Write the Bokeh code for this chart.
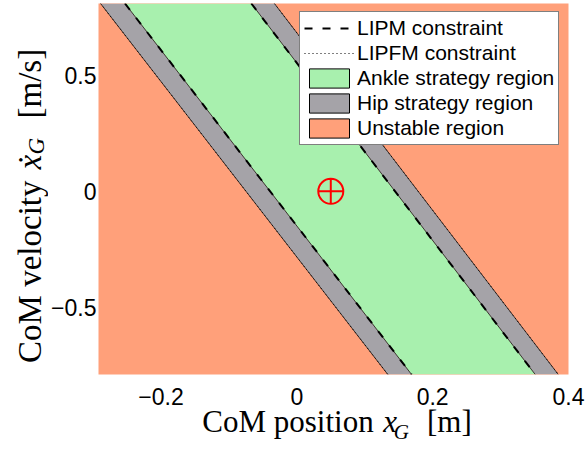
import math
from bokeh.plotting import figure
from bokeh.layouts import row, column
from bokeh.models import (Label, Legend, LegendItem, FixedTicker, Range1d,
                          CustomJSTickFormatter)
from bokeh.embed import file_html
from bokeh.resources import INLINE

# ---------------- data ----------------
X_LIM = [-0.292, 0.4]
Y_LIM = [-0.79, 0.81]
X_TICKS = [-0.2, 0.0, 0.2, 0.4]
Y_TICKS = [-0.5, 0.0, 0.5]

# constraint lines: x at the top (y = LINE_Y[0]) and bottom (y = LINE_Y[1]) of the axes
LINE_Y = [0.81, -0.79]
lipfm_left_x = [-0.289, 0.134]
lipm_left_x = [-0.253, 0.169]
lipm_right_x = [-0.067, 0.351]
lipfm_right_x = [-0.033, 0.385]

# current state marker
state_x = [0.05]
state_y = [0.0]

labels = ["LIPM constraint", "LIPFM constraint", "Ankle strategy region",
          "Hip strategy region", "Unstable region"]

ORANGE = "#FFA07A"
GREEN = "#A8F0AE"
GREY = "#A5A3A8"
NAN = float("nan")

# ---------------- main figure ----------------
p = figure(width=538, height=414,
           x_range=Range1d(*X_LIM), y_range=Range1d(*Y_LIM),
           output_backend="svg", toolbar_location=None,
           min_border_left=48, min_border_right=18,
           min_border_top=3, min_border_bottom=40)
p.outline_line_color = None
p.xgrid.visible = False
p.ygrid.visible = False
p.background_fill_color = ORANGE
p.border_fill_color = "white"

top, bot = LINE_Y
green_xs = [lipm_left_x[0], lipm_right_x[0], lipm_right_x[1], lipm_left_x[1]]
grey_l_xs = [lipfm_left_x[0], lipm_left_x[0], lipm_left_x[1], lipfm_left_x[1]]
grey_r_xs = [lipm_right_x[0], lipfm_right_x[0], lipfm_right_x[1], lipm_right_x[1]]
band_ys = [top, top, bot, bot]

p.patches(xs=[green_xs], ys=[band_ys], fill_color=GREEN, line_color=None)
p.patches(xs=[grey_l_xs, grey_r_xs], ys=[band_ys, band_ys], fill_color=GREY,
          line_color=None)

# region edges (thin solid)
p.multi_line(xs=[lipfm_left_x, lipm_left_x, lipm_right_x, lipfm_right_x],
             ys=[LINE_Y] * 4, line_color="black", line_width=0.7)
r_lipfm = p.multi_line(xs=[lipfm_left_x, lipfm_right_x], ys=[LINE_Y] * 2,
                       line_color="black", line_width=1, line_dash="1 3")
r_lipm = p.multi_line(xs=[lipm_left_x, lipm_right_x], ys=[LINE_Y] * 2,
                      line_color="black", line_width=2, line_dash="8 10")

p.scatter(state_x, state_y, marker="circle_cross", size=25, fill_alpha=0,
          line_color="red", line_width=2)

# legend-only swatches (no visible geometry)
leg_green = p.quad(left=[NAN], right=[NAN], top=[NAN], bottom=[NAN],
                   fill_color=GREEN, line_color="black", line_width=1)
leg_grey = p.quad(left=[NAN], right=[NAN], top=[NAN], bottom=[NAN],
                  fill_color=GREY, line_color="black", line_width=1)
leg_orange = p.quad(left=[NAN], right=[NAN], top=[NAN], bottom=[NAN],
                    fill_color=ORANGE, line_color="black", line_width=1)

legend = Legend(items=[
    LegendItem(label=labels[0], renderers=[r_lipm]),
    LegendItem(label=labels[1], renderers=[r_lipfm]),
    LegendItem(label=labels[2], renderers=[leg_green]),
    LegendItem(label=labels[3], renderers=[leg_grey]),
    LegendItem(label=labels[4], renderers=[leg_orange]),
], location=(201, 229))
legend.glyph_width = 50
legend.glyph_height = 24
legend.label_height = 20
legend.spacing = 1
legend.padding = 4
legend.margin = 0
legend.label_standoff = 3
legend.label_text_font = "Liberation Sans"
legend.label_text_font_size = "21px"
legend.label_text_color = "black"
legend.border_line_color = "black"
legend.border_line_width = 1
legend.background_fill_color = "white"
legend.background_fill_alpha = 1
p.add_layout(legend, "center")

fmt = CustomJSTickFormatter(code="""
if (Math.abs(tick) < 1e-9) { return '0'; }
return tick.toFixed(1).replace('-', '\u2212');
""")
for ax, ticks, standoff in ((p.xaxis, X_TICKS, 13), (p.yaxis, Y_TICKS, 2)):
    ax.ticker = FixedTicker(ticks=ticks)
    ax.formatter = fmt
    ax.axis_line_color = None
    ax.major_tick_line_color = None
    ax.minor_tick_line_color = None
    ax.major_tick_out = 0
    ax.major_tick_in = 0
    ax.major_label_standoff = standoff
    ax.major_label_text_font = "Liberation Sans"
    ax.major_label_text_font_size = "23px"
    ax.major_label_text_color = "black"

# ---------------- axis-title strips (coordinates = page pixels) ----------------
SERIF = "Liberation Serif"


def strip(w, h, x0, y0):
    f = figure(width=w, height=h, x_range=Range1d(x0, x0 + w),
               y_range=Range1d(y0 + h, y0), output_backend="svg",
               toolbar_location=None, x_axis_type=None, y_axis_type=None,
               min_border=0, min_border_left=0, min_border_right=0,
               min_border_top=0, min_border_bottom=0)
    f.outline_line_color = None
    f.background_fill_alpha = 0
    f.border_fill_alpha = 0
    return f


OVERLAP = 12
xfig = strip(538, 35 + OVERLAP, 48, 414 - OVERLAP)
xfig.styles = {"margin-top": "-%dpx" % OVERLAP}
yfig = strip(48, 449, 0, 0)


def lab(f, text, px, py, align, size, style="normal", angle=0.0):
    f.add_layout(Label(x=px, y=py, text=text, text_align=align,
                       text_baseline="alphabetic", text_font=SERIF,
                       text_font_size=size, text_font_style=style,
                       text_color="black", angle=angle))


# x title: CoM position x_G [m]
lab(xfig, "CoM position", 363, 421, "right", "31px")
lab(xfig, "x", 374, 421, "left", "31px", style="italic")
lab(xfig, "G", 386, 431, "left", "21px", style="italic")
lab(xfig, "[m]", 424, 421, "left", "31px")

# y title (rotated): CoM velocity xdot_G [m/s]
A = math.pi / 2
lab(yfig, "CoM velocity", 29, 180, "right", "33px", angle=A)
lab(yfig, "x\u0307", 29, 169, "left", "33px", style="italic", angle=A)
lab(yfig, "G", 36, 154, "left", "23px", style="italic", angle=A)
lab(yfig, "[m/s]", 29, 118, "left", "33px", angle=A)

layout = row(yfig, column(p, xfig))
open("out.html", "w").write(file_html(layout, INLINE))
